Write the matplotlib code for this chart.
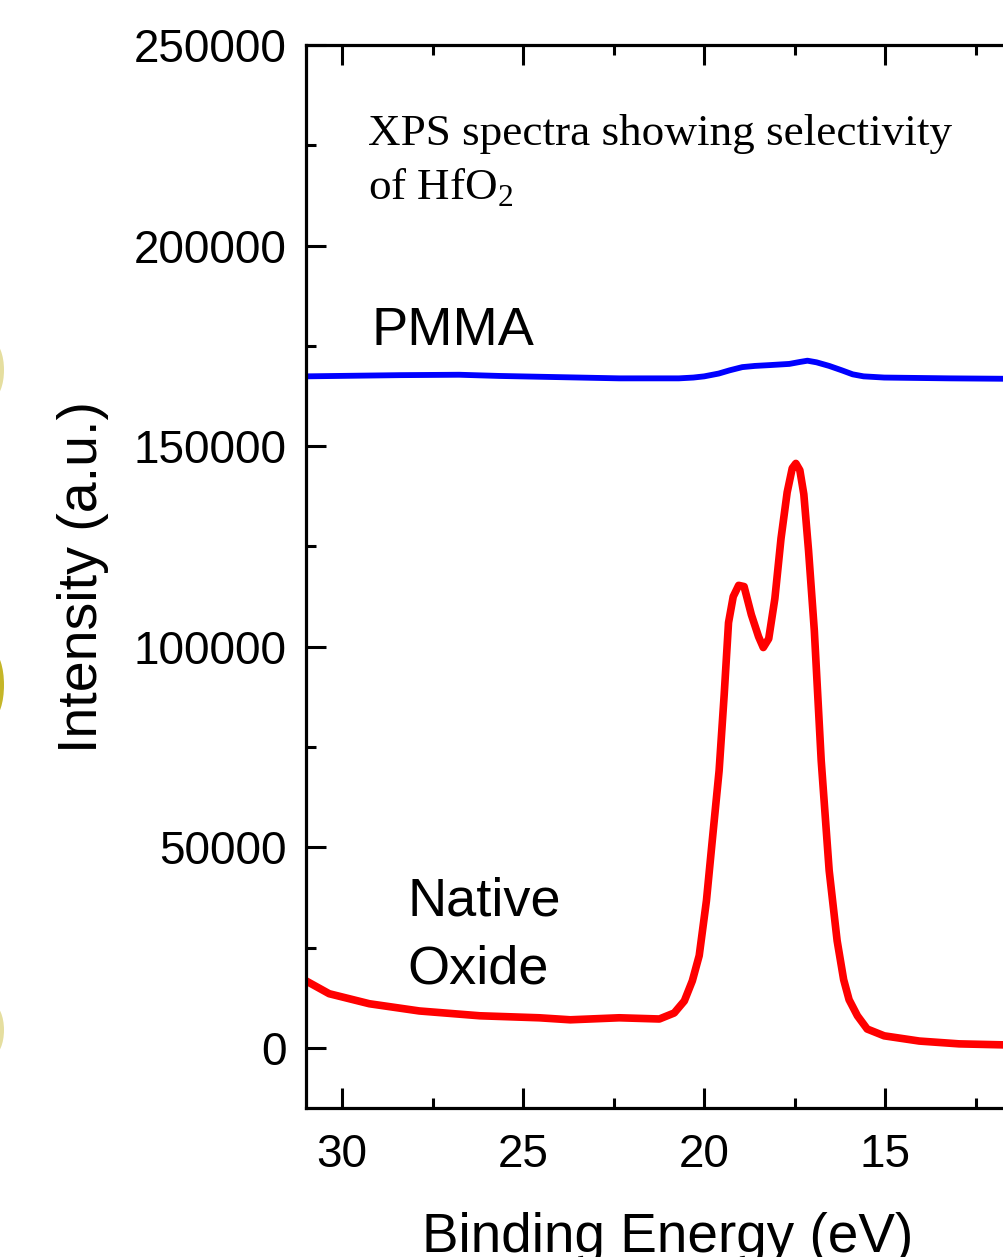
import matplotlib.pyplot as plt
from matplotlib.patches import Ellipse
from matplotlib.ticker import MultipleLocator

# --------------------------------------------------
# Data
# --------------------------------------------------

oxide_be = [31.0, 30.36, 29.25, 27.87, 26.2, 24.56, 23.7, 22.35, 21.24, 20.83,
            20.55, 20.33, 20.14, 19.94, 19.78, 19.59, 19.45, 19.33, 19.2, 19.05, 18.9,
            18.7, 18.5, 18.37, 18.22, 18.05, 17.88, 17.71, 17.57, 17.47, 17.36, 17.25,
            17.12, 16.96, 16.77, 16.55, 16.33, 16.15, 16.0, 15.77, 15.5, 15.03,
            14.06, 12.96, 11.74, 10.0]
oxide_int = [16700, 13500, 11000, 9200, 8000, 7500, 7000, 7500, 7200, 8700,
             11700, 16700, 23000, 36700, 51600, 69100, 88000, 106000, 112500, 115300, 115000,
             108000, 102500, 99800, 102000, 112000, 127000, 138500, 144500, 145700, 144000, 138000,
             124000, 104000, 71600, 44200, 26700, 17000, 12000, 8000, 4700, 3000,
             1700, 1000, 750, 600]

pmma_be = [31.0, 28.4, 26.77, 25.66, 24.0, 22.35, 20.7, 20.3, 20.0, 19.6, 19.3, 18.95,
           18.6, 18.2, 17.65, 17.35, 17.15, 16.9, 16.55, 16.2, 15.9, 15.6, 15.03,
           13.23, 11.74, 10.0]
pmma_int = [167400, 167700, 167800, 167500, 167200, 166900, 166900, 167100, 167400, 168100,
            168900, 169700, 170000, 170200, 170500, 171000, 171300, 170900, 170000, 168900,
            167900, 167400, 167100, 166900, 166800, 166800]

# --------------------------------------------------
# Figure
# --------------------------------------------------

plt.rcParams['font.family'] = ['Liberation Sans', 'DejaVu Sans']
plt.rcParams['mathtext.fontset'] = 'custom'
plt.rcParams['mathtext.rm'] = 'Liberation Serif'

fig = plt.figure(figsize=(10.04, 12.57), dpi=100)
ax = fig.add_axes([0.3048, 0.1185, 0.7212, 0.8457])

ax.plot(oxide_be, oxide_int, color="#ff0000", lw=5.5, solid_joinstyle="round")
ax.plot(pmma_be, pmma_int, color="#0000ff", lw=4.2, solid_joinstyle="round")

ax.set_xlim(31, 11)
ax.set_ylim(-15000, 250000)

ax.xaxis.set_major_locator(MultipleLocator(5))
ax.xaxis.set_minor_locator(MultipleLocator(2.5))
ax.yaxis.set_major_locator(MultipleLocator(50000))
ax.yaxis.set_minor_locator(MultipleLocator(25000))

ax.tick_params(which="both", direction="in", top=True, right=True,
               width=2.2, labelsize=33)
ax.tick_params(which="major", length=14.5)
ax.tick_params(axis="x", which="major", pad=18)
ax.tick_params(axis="y", which="major", pad=14)
ax.tick_params(which="minor", length=7.5)

for s in ax.spines.values():
    s.set_linewidth(2.3)

ax.set_xlabel("Binding Energy (eV)", fontsize=39.5, labelpad=25)
ax.set_ylabel("Intensity (a.u.)", fontsize=40, labelpad=18)

# --------------------------------------------------
# Annotations
# --------------------------------------------------

ax.text(29.2, 175200, "PMMA", fontsize=39, va="baseline")
ax.text(28.2, 32900, "Native", fontsize=39, va="baseline")
ax.text(28.2, 16000, "Oxide", fontsize=39, va="baseline")
ax.text(29.3, 225000, "XPS spectra showing selectivity",
        fontsize=32.5, family="Liberation Serif", va="baseline")
ax.text(29.3, 211300, "of HfO$_2$",
        fontsize=32.5, family="Liberation Serif", va="baseline")

# bits of the neighbouring panel at the left edge
for yc, h, a in [(370, 55, 0.4), (685, 65, 0.9), (1030, 50, 0.4)]:
    fig.patches.append(Ellipse((-7, 1257 - yc), 22, h, transform=None,
                               color="#bfae10", alpha=a, lw=0))

fig.savefig("out.png", dpi=100)
